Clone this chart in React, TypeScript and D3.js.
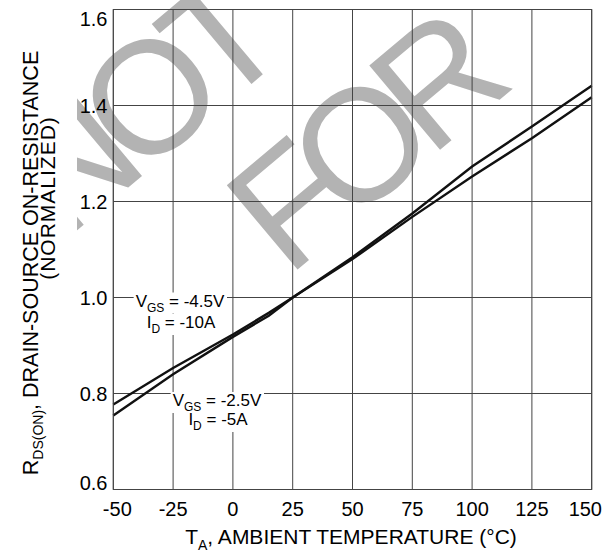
import React, { useEffect, useRef } from 'react'
import * as d3 from 'd3'

const WIDTH = 604
const HEIGHT = 553

// ambient temperature (°C) and normalized on-resistance
const temps = [-50, -25, 0, 15, 25, 50, 75, 100, 125, 150]
const rds45 = [0.777, 0.853, 0.923, 0.968, 1.0, 1.08, 1.168, 1.252, 1.332, 1.417] // VGS = -4.5V, ID = -10A
const rds25 = [0.754, 0.84, 0.918, 0.962, 1.0, 1.084, 1.175, 1.273, 1.356, 1.441] // VGS = -2.5V, ID = -5A

const xTicks = [-50, -25, 0, 25, 50, 75, 100, 125, 150]
const yTicks = [0.6, 0.8, 1.0, 1.2, 1.4, 1.6]

const FONT = "'Liberation Sans', Arial, Helvetica, sans-serif"

export default function App() {
  const ref = useRef<SVGSVGElement | null>(null)

  useEffect(() => {
    const margin = { top: 9.5, right: 12.3, bottom: 63.5, left: 113.3 }
    const svg = d3.select(ref.current)
    svg.selectAll('*').remove()

    const x = d3.scaleLinear().domain([-50, 150]).range([margin.left, WIDTH - margin.right])
    const y = d3.scaleLinear().domain([0.6, 1.6]).range([HEIGHT - margin.bottom, margin.top])

    svg.append('rect').attr('width', WIDTH).attr('height', HEIGHT).attr('fill', '#fff')

    // watermark
    svg
      .append('clipPath')
      .attr('id', 'wm-clip')
      .append('rect')
      .attr('x', 77)
      .attr('y', 0)
      .attr('width', WIDTH - 77)
      .attr('height', HEIGHT)
    const wm = svg
      .append('g')
      .attr('clip-path', 'url(#wm-clip)')
      .style('font-family', FONT)
      .style('font-size', '160px')
      .style('letter-spacing', '-18px')
      .attr('fill', '#b3b3b3')
    wm.append('text').attr('transform', 'translate(63.5,241.7) rotate(-40)').text('NOT')
    wm.append('text').attr('transform', 'translate(287.4,278) rotate(-40)').text('FOR')

    // grid
    const grid = svg.append('g').attr('stroke', '#444').attr('stroke-width', 1)
    grid
      .selectAll('.vx')
      .data(xTicks)
      .join('line')
      .attr('x1', d => x(d))
      .attr('x2', d => x(d))
      .attr('y1', y(1.6))
      .attr('y2', y(0.6))
    grid
      .selectAll('.hy')
      .data(yTicks)
      .join('line')
      .attr('x1', x(-50))
      .attr('x2', x(150))
      .attr('y1', d => y(d))
      .attr('y2', d => y(d))

    const line = d3
      .line<number>()
      .x((d, i) => x(temps[i]))
      .y(d => y(d))

    svg
      .append('g')
      .attr('fill', 'none')
      .attr('stroke', '#111')
      .attr('stroke-width', 2.4)
      .selectAll('path')
      .data([rds45, rds25])
      .join('path')
      .attr('d', d => line(d))

    // annotations with white boxes behind them
    const notes = [
      { cx: 180, by: 306.5, main: 'V', sub: 'GS', rest: ' = -4.5V' },
      { cx: 181, by: 328, main: 'I', sub: 'D', rest: ' = -10A' },
      { cx: 217, by: 406, main: 'V', sub: 'GS', rest: ' = -2.5V' },
      { cx: 218, by: 425, main: 'I', sub: 'D', rest: ' = -5A' },
    ]
    const ann = svg.append('g').style('font-family', FONT).style('font-size', '17px')
    const boxes = ann.append('g')
    const texts = ann.append('g')
    notes.forEach(n => {
      const t = texts
        .append('text')
        .attr('x', n.cx)
        .attr('y', n.by)
        .attr('text-anchor', 'middle')
        .attr('fill', '#000')
      t.append('tspan').text(n.main)
      t.append('tspan').attr('dy', 5).style('font-size', '12px').text(n.sub)
      t.append('tspan').attr('dy', -5).text(n.rest)
      const b = (t.node() as SVGTextElement).getBBox()
      boxes
        .append('rect')
        .attr('fill', '#fff')
        .attr('x', b.x - 2)
        .attr('y', b.y + 1)
        .attr('width', b.width + 4)
        .attr('height', b.height - 2)
    })

    // frame
    svg
      .append('rect')
      .attr('x', x(-50))
      .attr('y', y(1.6))
      .attr('width', x(150) - x(-50))
      .attr('height', y(0.6) - y(1.6))
      .attr('fill', 'none')
      .attr('stroke', '#444')

    // tick labels
    const labels = svg.append('g').style('font-family', FONT).style('font-size', '20px').attr('fill', '#000')
    labels
      .selectAll('.yl')
      .data(yTicks)
      .join('text')
      .attr('x', 107.5)
      .attr('y', d => (d === 1.6 ? 26 : d === 0.6 ? 490 : y(d) + 7))
      .attr('text-anchor', 'end')
      .text(d => d3.format('.1f')(d))
    labels
      .selectAll('.xl')
      .data(xTicks)
      .join('text')
      .attr('x', d => (d === -50 ? x(d) + 4 : d === 150 ? 602 : x(d)))
      .attr('y', 516)
      .attr('text-anchor', d => (d === 150 ? 'end' : 'middle'))
      .text(d => d)

    // axis titles
    const titles = svg.append('g').style('font-family', FONT).style('font-size', '21px').attr('fill', '#000')
    const xt = titles.append('text').attr('x', 351).attr('y', 544).attr('text-anchor', 'middle')
    xt.append('tspan').text('T')
    xt.append('tspan').attr('dy', 6).style('font-size', '14px').text('A')
    xt.append('tspan').attr('dy', -6).text(', AMBIENT TEMPERATURE (°C)')

    const yt = titles
      .append('text')
      .attr('transform', 'translate(38,263) rotate(-90)')
      .attr('text-anchor', 'middle')
      .style('font-size', '21.5px')
    yt.append('tspan').text('R')
    yt.append('tspan').attr('dy', 5).style('font-size', '14px').text('DS(ON)')
    yt.append('tspan').attr('dy', -5).text(', DRAIN-SOURCE ON-RESISTANCE')
    titles
      .append('text')
      .attr('transform', 'translate(55,198) rotate(-90)')
      .attr('text-anchor', 'middle')
      .style('letter-spacing', '1px')
      .text('(NORMALIZED)')
  }, [])

  return (
    <svg
      ref={ref}
      width={WIDTH}
      height={HEIGHT}
      style={{ position: 'absolute', left: 0, top: 0 }}
    />
  )
}
